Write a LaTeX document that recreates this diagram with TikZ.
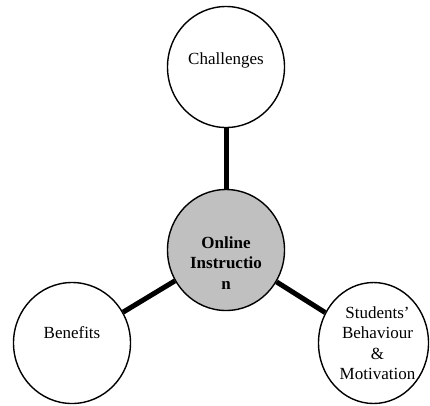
\documentclass[tikz,border=0pt]{standalone}
\usepackage{fontspec}
\setmainfont{Liberation Serif}
\usepackage{xcolor}
\usepackage{tikz}
\usetikzlibrary{shapes.geometric,positioning}

\definecolor{hubgray}{RGB}{192,192,192}

\begin{document}
\begin{tikzpicture}[x=1pt,y=-1pt,
		bubble/.style={draw,line width=1.4pt,ellipse,inner sep=0pt,minimum width=117pt,minimum height=121pt},
		hub/.style={bubble,fill=hubgray},
		caption/.style={inner sep=0pt,align=center,font=\fontsize{17}{20.4}\selectfont},
		spoke/.style={line width=5pt}]
		\useasboundingbox (0,0) rectangle (430,405);
		
		% central topic and the three branches
		\node[hub] (oi) at (226,250) {};
		\node[bubble] (ch) at (226,67) {};
		\node[bubble] (bn) at (72,343) {};
		\node[bubble,minimum width=110pt] (sb) at (373.5,343) {};
		
		\draw[spoke] (oi) -- (ch);
		\draw[spoke] (oi) -- (bn);
		\draw[spoke] (oi) -- (sb);
		
		% texts sit a little off the centres
		\node[caption,font=\fontsize{17}{20.4}\selectfont\bfseries] (oitext) at ([yshift=-13pt]oi.center) {Online\\Instructio\\n};
		\node[caption] (chtext) at ([yshift=7pt]ch.center) {Challenges};
		\node[caption] (bntext) at ([yshift=10pt]bn.center) {Benefits};
		\node[caption] (sbtext) at ([xshift=4pt]sb.center) {Students’\\Behaviour\\\&\\Motivation};
	\end{tikzpicture}
\end{document}
